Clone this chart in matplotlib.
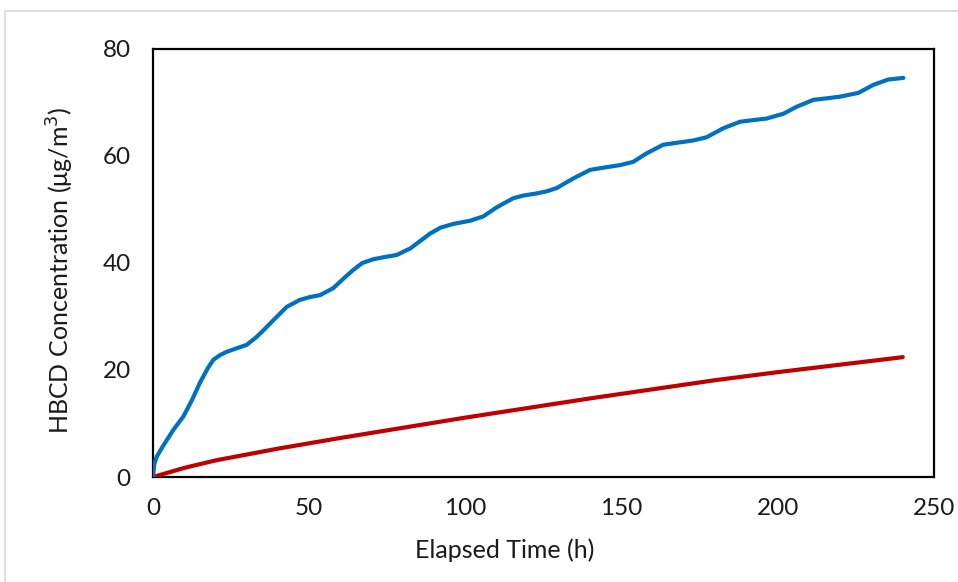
import matplotlib
matplotlib.use("Agg")
import matplotlib.pyplot as plt
from matplotlib.patches import Rectangle

# Blue series
blue_t = [0, 0.4, 1.2, 3, 6.5, 9.7, 12.5, 15, 17.5, 19.3, 21.5, 23.6, 27, 30, 33.2, 36, 38.5,
          42.8, 47, 50, 53.5, 57.7, 61, 64.1, 67, 70.5, 74, 78, 82.3, 85.5, 88.7, 92, 96.1,
          101.5, 105.7, 110, 115.3, 118.5, 122.8, 126, 129.2, 134.5, 139.9, 144, 149.5, 153.7,
          158, 163.3, 168, 172.9, 177.2, 182.6, 187.9, 192, 196.4, 201.8, 206, 211.4, 216,
          220, 225.8, 230.6, 235.4, 240.2]
blue_c = [0, 2.4, 3.8, 5.6, 8.8, 11.3, 14.4, 17.6, 20.3, 21.9, 22.8, 23.4, 24.1, 24.7, 26.2,
          27.8, 29.3, 31.8, 33.1, 33.6, 34.0, 35.3, 37.1, 38.7, 40.0, 40.7, 41.1, 41.5, 42.7,
          44.1, 45.5, 46.6, 47.3, 47.9, 48.7, 50.4, 52.1, 52.6, 53.0, 53.4, 54.0, 55.8, 57.4,
          57.8, 58.3, 58.9, 60.5, 62.1, 62.5, 62.9, 63.5, 65.2, 66.4, 66.7, 67.0, 67.9, 69.2,
          70.5, 70.8, 71.1, 71.8, 73.3, 74.3, 74.6]

# Red series
red_t = [0, 10, 20, 40, 60, 80, 100, 120, 140, 160, 180, 200, 220, 240]
red_c = [0, 1.7, 3.1, 5.3, 7.3, 9.2, 11.1, 12.9, 14.7, 16.4, 18.1, 19.6, 21.0, 22.4]

x_ticks = [0, 50, 100, 150, 200, 250]
y_ticks = [0, 20, 40, 60, 80]

plt.rcParams['font.family'] = ['Lato', 'DejaVu Sans']

W, H = 958, 582
fig = plt.figure(figsize=(W / 100, H / 100), dpi=100)
ax = fig.add_axes([153 / W, 1 - 477 / H, (934 - 153) / W, (477 - 49) / H])

ax.plot(red_t, red_c, color='#C00000', lw=3.0, solid_capstyle='round',
        solid_joinstyle='round', zorder=3)
ax.plot(blue_t, blue_c, color='#0070C0', lw=3.0, solid_capstyle='round',
        solid_joinstyle='round', zorder=4)

ax.set_xlim(0, 250)
ax.set_ylim(0, 80)
ax.set_xticks(x_ticks)
ax.set_yticks(y_ticks)
ax.tick_params(axis='both', length=0, labelsize=17.5, colors='#1a1a1a')
ax.tick_params(axis='x', pad=15)
ax.tick_params(axis='y', pad=16)
for s in ax.spines.values():
    s.set_linewidth(1.6)
    s.set_color('black')

ax.set_xlabel('Elapsed Time (h)', fontsize=18, color='#1a1a1a', va='center')
ax.set_ylabel('HBCD Concentration (μg/m$^3$)', fontsize=18, color='#1a1a1a', va='center')
ax.xaxis.set_label_coords((505 - 153) / 781, (477 - 550) / 428)
ax.yaxis.set_label_coords((60 - 153) / 781, (477 - 270) / 428)

fig.add_artist(Rectangle((5 / W, -0.1), 1.2, 1 - 11 / H + 0.1, transform=fig.transFigure,
                         fill=False, edgecolor='#D9D9D9', lw=1.2))

fig.savefig('out.png', dpi=100)
